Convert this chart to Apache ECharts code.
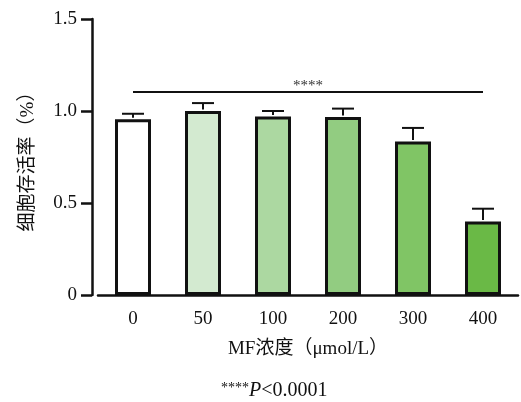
<!DOCTYPE html>
<html>
<head>
<meta charset="utf-8">
<script src="https://cdn.jsdelivr.net/npm/echarts@6/dist/echarts.min.js"></script>
<style>html,body{margin:0;padding:0;background:#fff;}#c{width:521px;height:402px;}</style>
</head>
<body>
<div id="c"></div>
<script>
var categories = ['0', '50', '100', '200', '300', '400'];
var means = [0.955, 1.0, 0.97, 0.968, 0.834, 0.40];
var upper = [0.985, 1.043, 1.0, 1.013, 0.908, 0.469];
var barColors = ['#ffffff', '#d3ead0', '#acd8a1', '#92cc81', '#80c565', '#6ab946'];
var yTicks = [0, 0.5, 1.0, 1.5];
var sigLevel = 1.103;
var sigText = '****';

var FONT = "'Liberation Serif', 'Noto Sans CJK SC', serif";
var chart = echarts.init(document.getElementById('c'), null, {renderer: 'canvas'});

var option = {
  animation: false,
  backgroundColor: '#ffffff',
  grid: {left: 98, right: 3, top: 19, bottom: 107, containLabel: false},
  xAxis: {
    type: 'category',
    data: categories,
    boundaryGap: true,
    name: 'MF浓度（μmol/L）',
    nameLocation: 'middle',
    nameGap: 45,
    nameTextStyle: {fontFamily: FONT, fontSize: 19, color: '#111'},
    axisLine: {lineStyle: {color: '#111', width: 2.5}},
    axisTick: {alignWithLabel: true, length: 12, lineStyle: {color: '#111', width: 2.5}},
    axisLabel: {fontFamily: FONT, fontSize: 19, color: '#111', margin: 15}
  },
  yAxis: {
    type: 'value',
    min: yTicks[0],
    max: yTicks[yTicks.length - 1],
    interval: 0.5,
    offset: 6,
    name: '细胞存活率（%）',
    nameLocation: 'middle',
    nameGap: 54,
    nameTextStyle: {fontFamily: FONT, fontSize: 19, color: '#111'},
    splitLine: {show: false},
    axisLine: {show: true, lineStyle: {color: '#111', width: 2.5}},
    axisTick: {show: true, length: 11, lineStyle: {color: '#111', width: 2.5}},
    axisLabel: {
      fontFamily: FONT, fontSize: 19, color: '#111', margin: 15,
      formatter: function (v) { return v === 0 ? '0' : v.toFixed(1); }
    }
  },
  title: {
    left: 216, top: 376,
    text: '{s|****}{p|P}{n|<0.0001}',
    textStyle: {
      fontWeight: 'normal',
      rich: {
        s: {fontFamily: FONT, fontSize: 14, fontWeight: 'normal', color: '#111', verticalAlign: 'top', padding: [0, 0, 6, 0]},
        p: {fontFamily: FONT, fontSize: 20, fontWeight: 'normal', fontStyle: 'italic', color: '#111'},
        n: {fontFamily: FONT, fontSize: 20, fontWeight: 'normal', color: '#111'}
      }
    }
  },
  series: [
    {
      type: 'bar',
      barWidth: 36,
      data: means.map(function (v, i) {
        return {value: v, itemStyle: {color: barColors[i]}};
      }),
      itemStyle: {borderColor: '#111', borderWidth: 3},
      z: 2
    },
    {
      type: 'custom',
      z: 3,
      data: means.map(function (v, i) { return [i, v, upper[i]]; }),
      renderItem: function (params, api) {
        var base = api.coord([api.value(0), api.value(1)]);
        var top = api.coord([api.value(0), api.value(2)]);
        var half = 11;
        return {
          type: 'group',
          children: [
            {type: 'line', shape: {x1: base[0], y1: base[1] - 1.5, x2: top[0], y2: top[1]}, style: {stroke: '#111', lineWidth: 2}},
            {type: 'line', shape: {x1: top[0] - half, y1: top[1], x2: top[0] + half, y2: top[1]}, style: {stroke: '#111', lineWidth: 2}}
          ]
        };
      }
    },
    {
      type: 'custom',
      z: 3,
      data: [[0, categories.length - 1, sigLevel]],
      renderItem: function (params, api) {
        var a = api.coord([api.value(0), api.value(2)]);
        var b = api.coord([api.value(1), api.value(2)]);
        return {
          type: 'group',
          children: [
            {type: 'line', shape: {x1: a[0], y1: a[1], x2: b[0], y2: b[1]}, style: {stroke: '#111', lineWidth: 2}},
            {type: 'text', x: (a[0] + b[0]) / 2, y: a[1] + 2, style: {text: sigText, fontFamily: FONT, fontSize: 15, fill: '#333', align: 'center', verticalAlign: 'bottom'}}
          ]
        };
      }
    }
  ]
};
chart.setOption(option);
// extend the x axis line to the right edge, as in the reference
var zeroPt = chart.convertToPixel({gridIndex: 0}, [categories.length - 0.5, 0]);
chart.setOption({
  graphic: [{type: 'line', shape: {x1: zeroPt[0], y1: zeroPt[1], x2: 521, y2: zeroPt[1]}, style: {stroke: '#111', lineWidth: 2.5}}]
});
</script>
</body>
</html>
